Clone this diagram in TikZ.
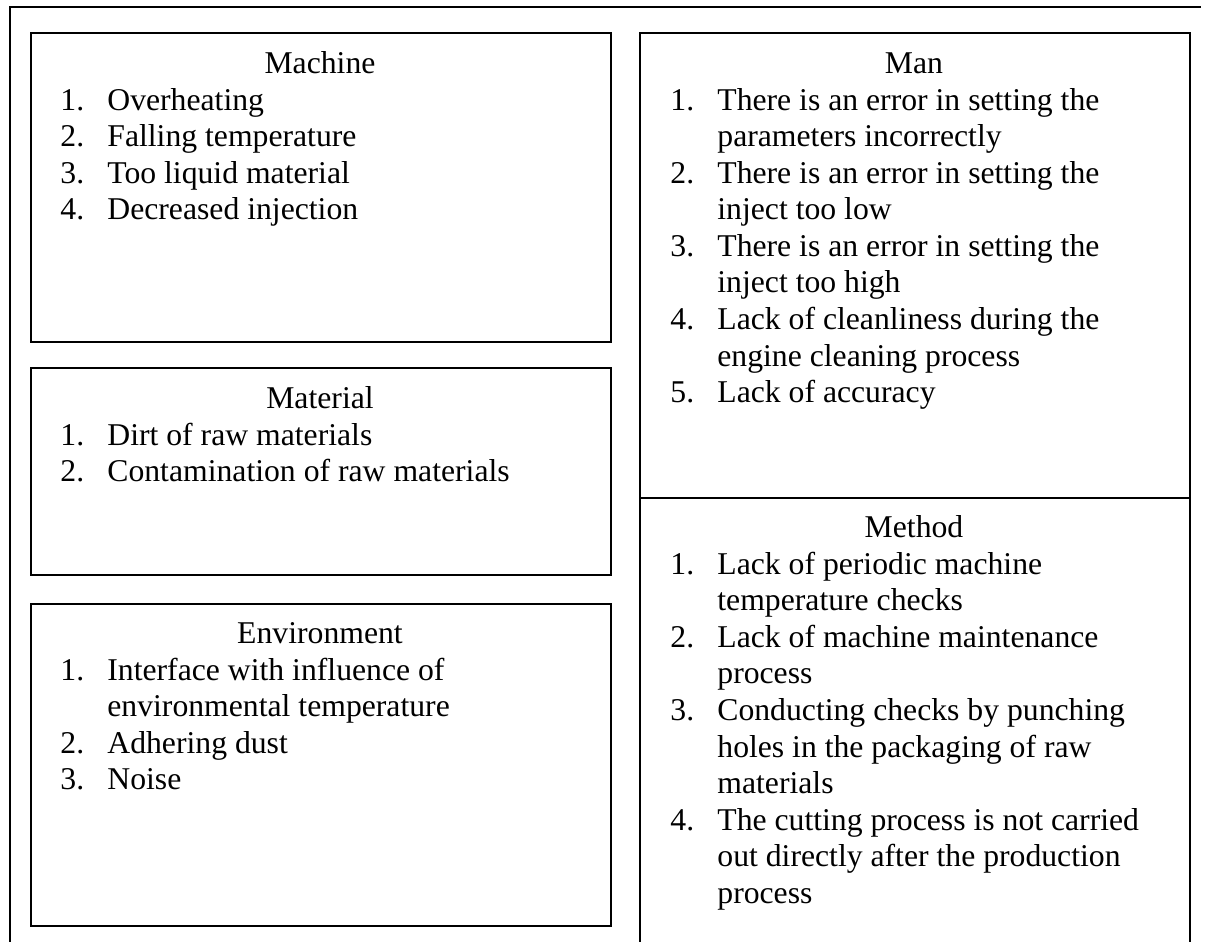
\documentclass[tikz,border=0pt]{standalone}
\usepackage{fontspec}
\setmainfont{Liberation Serif}
\usetikzlibrary{positioning}

\tikzset{box/.style={draw, line width=0.75pt, anchor=north west, inner sep=0pt},
  head/.style={anchor=base, inner sep=0pt},
  items/.style={anchor=base west, inner sep=0pt}}

\begin{document}
\begin{tikzpicture}[x=0.5pt,y=-0.5pt,font=\fontsize{15.85}{18.3}\selectfont]
\useasboundingbox (0,0) rectangle (1206,942);
% outer frame, only top and left side
\draw[line width=1pt] (10,942) -- (10,7) -- (1201,7);

% left column
\node[box, minimum width=290pt, minimum height=154.5pt] (machine) at (30,32) {};
\node[head] (machinehead) at (320,73) {Machine};
\node[items] (machinelist) at (60,110) {\begin{tabular}[t]{@{}p{23.5pt}@{}l@{}}
1. & Overheating\\
2. & Falling temperature\\
3. & Too liquid material\\
4. & Decreased injection
\end{tabular}};

\node[box, minimum width=290pt, minimum height=103.5pt] (material) at (30,367) {};
\node[head] (materialhead) at (320,408) {Material};
\node[items] (materiallist) at (60,445) {\begin{tabular}[t]{@{}p{23.5pt}@{}l@{}}
1. & Dirt of raw materials\\
2. & Contamination of raw materials
\end{tabular}};

\node[box, minimum width=290pt, minimum height=161pt] (environment) at (30,603) {};
\node[head] (environmenthead) at (320,643) {Environment};
\node[items] (environmentlist) at (60,680) {\begin{tabular}[t]{@{}p{23.5pt}@{}l@{}}
1. & Interface with influence of\\
   & environmental temperature\\
2. & Adhering dust\\
3. & Noise
\end{tabular}};

% right column
\node[box, minimum width=275pt, minimum height=232.5pt] (man) at (639,32) {};
\node[head] (manhead) at (914,73) {Man};
\node[items] (manlist) at (670,110) {\begin{tabular}[t]{@{}p{23.5pt}@{}l@{}}
1. & There is an error in setting the\\
   & parameters incorrectly\\
2. & There is an error in setting the\\
   & inject too low\\
3. & There is an error in setting the\\
   & inject too high\\
4. & Lack of cleanliness during the\\
   & engine cleaning process\\
5. & Lack of accuracy
\end{tabular}};

\node[box, minimum width=275pt, minimum height=240pt] (method) at (639,497) {};
\node[head] (methodhead) at (914,537) {Method};
\node[items] (methodlist) at (670,574) {\begin{tabular}[t]{@{}p{23.5pt}@{}l@{}}
1. & Lack of periodic machine\\
   & temperature checks\\
2. & Lack of machine maintenance\\
   & process\\
3. & Conducting checks by punching\\
   & holes in the packaging of raw\\
   & materials\\
4. & The cutting process is not carried\\
   & out directly after the production\\
   & process
\end{tabular}};
\end{tikzpicture}
\end{document}
